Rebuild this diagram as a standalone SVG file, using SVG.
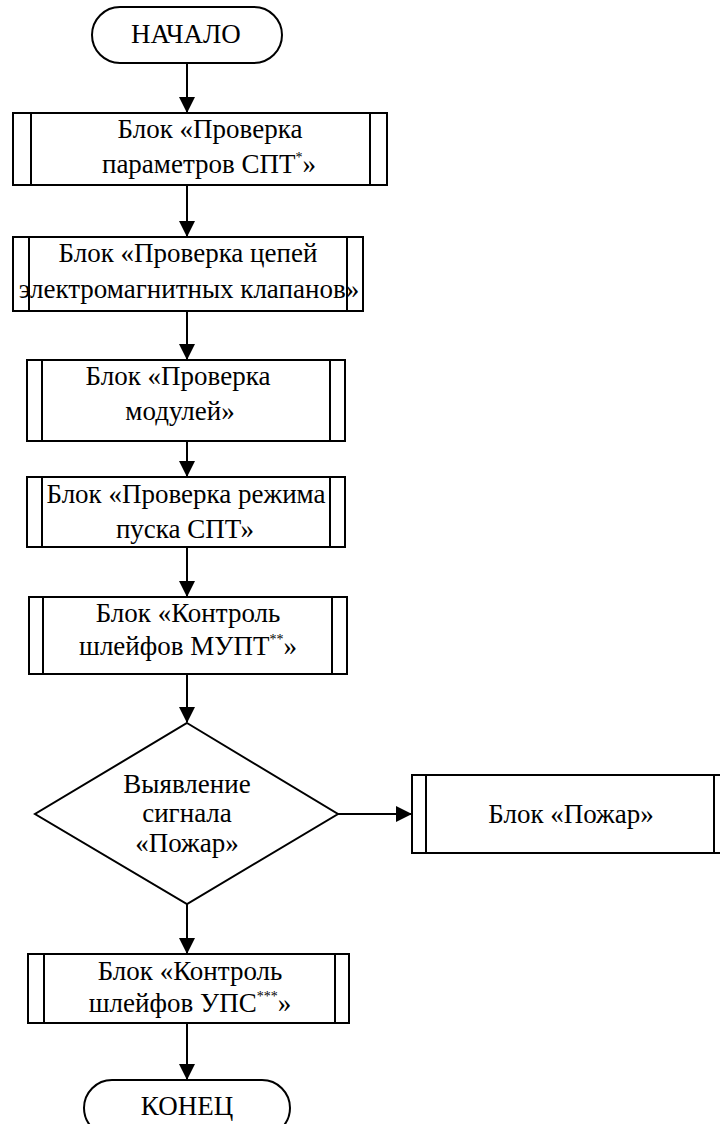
<svg xmlns="http://www.w3.org/2000/svg" width="720" height="1124" viewBox="0 0 720 1124">
  <style>
    .box { fill: #ffffff; stroke: #000000; stroke-width: 2; }
    .bar { stroke: #000000; stroke-width: 2; }
    .edge { fill: none; stroke: #000000; stroke-width: 2; marker-end: url(#arrow); }
    .label { font-family: "Liberation Serif", "Times New Roman", serif; font-size: 27px; fill: #000000; text-anchor: middle; }
    .sup { font-size: 14px; }
  </style>
  <defs>
    <marker id="arrow" markerUnits="userSpaceOnUse" markerWidth="16" markerHeight="16" refX="15" refY="8" orient="auto">
      <path d="M0,0 L16,8 L0,16 z" fill="#000000"/>
    </marker>
  </defs>
  <rect width="720" height="1124" fill="#ffffff"/>

  <!-- connectors -->
  <g id="connectors">
    <line class="edge" x1="187" y1="63" x2="187" y2="112"/>
    <line class="edge" x1="187" y1="185" x2="187" y2="236"/>
    <line class="edge" x1="187" y1="311" x2="187" y2="359"/>
    <line class="edge" x1="187" y1="441" x2="187" y2="476"/>
    <line class="edge" x1="187" y1="547" x2="187" y2="596"/>
    <line class="edge" x1="187" y1="674" x2="187" y2="722"/>
    <line class="edge" x1="338" y1="814" x2="411" y2="814"/>
    <line class="edge" x1="187" y1="904" x2="187" y2="953"/>
    <line class="edge" x1="187" y1="1023" x2="187" y2="1079"/>
  </g>

  <!-- start terminator -->
  <g id="start">
    <rect class="box" x="92" y="7" width="190" height="56" rx="28" ry="28"/>
    <text class="label" x="186" y="43">НАЧАЛО</text>
  </g>

  <!-- predefined process: SPT parameters -->
  <g id="check-params">
    <rect class="box" x="13" y="113" width="374" height="72"/>
    <line class="bar" x1="31" y1="113" x2="31" y2="185"/>
    <line class="bar" x1="370" y1="113" x2="370" y2="185"/>
    <text class="label" x="210" y="138">Блок «Проверка</text>
    <text class="label" x="209" y="173">параметров СПТ<tspan class="sup" dy="-11">*</tspan><tspan dy="11">»</tspan></text>
  </g>

  <!-- predefined process: valve circuits -->
  <g id="check-valves">
    <rect class="box" x="13" y="237" width="350" height="74"/>
    <line class="bar" x1="29" y1="237" x2="29" y2="311"/>
    <line class="bar" x1="347" y1="237" x2="347" y2="311"/>
    <text class="label" x="188" y="262">Блок «Проверка цепей</text>
    <text class="label" x="189" y="298">электромагнитных клапанов»</text>
  </g>

  <!-- predefined process: modules -->
  <g id="check-modules">
    <rect class="box" x="27" y="360" width="318" height="81"/>
    <line class="bar" x1="42" y1="360" x2="42" y2="441"/>
    <line class="bar" x1="330" y1="360" x2="330" y2="441"/>
    <text class="label" x="178" y="385">Блок «Проверка</text>
    <text class="label" x="180" y="420">модулей»</text>
  </g>

  <!-- predefined process: start mode -->
  <g id="check-start-mode">
    <rect class="box" x="27" y="477" width="318" height="70"/>
    <line class="bar" x1="42" y1="477" x2="42" y2="547"/>
    <line class="bar" x1="330" y1="477" x2="330" y2="547"/>
    <text class="label" x="186" y="503">Блок «Проверка режима</text>
    <text class="label" x="185" y="538">пуска СПТ»</text>
  </g>

  <!-- predefined process: MUPT loops -->
  <g id="control-mupt">
    <rect class="box" x="29" y="597" width="318" height="77"/>
    <line class="bar" x1="43" y1="597" x2="43" y2="674"/>
    <line class="bar" x1="332" y1="597" x2="332" y2="674"/>
    <text class="label" x="188" y="622">Блок «Контроль</text>
    <text class="label" x="188" y="655">шлейфов МУПТ<tspan class="sup" dy="-11">**</tspan><tspan dy="11">»</tspan></text>
  </g>

  <!-- decision -->
  <g id="fire-detect">
    <polygon class="box" points="187,723 338,814 187,904 35,814"/>
    <text class="label" x="187" y="793">Выявление</text>
    <text class="label" x="187" y="822">сигнала</text>
    <text class="label" x="187" y="852">«Пожар»</text>
  </g>

  <!-- predefined process: fire -->
  <g id="fire">
    <rect class="box" x="412" y="775" width="316" height="78"/>
    <line class="bar" x1="426" y1="775" x2="426" y2="853"/>
    <line class="bar" x1="714" y1="775" x2="714" y2="853"/>
    <text class="label" x="571" y="823">Блок «Пожар»</text>
  </g>

  <!-- predefined process: UPS loops -->
  <g id="control-ups">
    <rect class="box" x="28" y="954" width="321" height="69"/>
    <line class="bar" x1="44" y1="954" x2="44" y2="1023"/>
    <line class="bar" x1="335" y1="954" x2="335" y2="1023"/>
    <text class="label" x="190" y="980">Блок «Контроль</text>
    <text class="label" x="190" y="1012">шлейфов УПС<tspan class="sup" dy="-11">***</tspan><tspan dy="11">»</tspan></text>
  </g>

  <!-- end terminator -->
  <g id="end">
    <rect class="box" x="84" y="1080" width="206" height="56" rx="28" ry="28"/>
    <text class="label" x="187" y="1115">КОНЕЦ</text>
  </g>
</svg>
